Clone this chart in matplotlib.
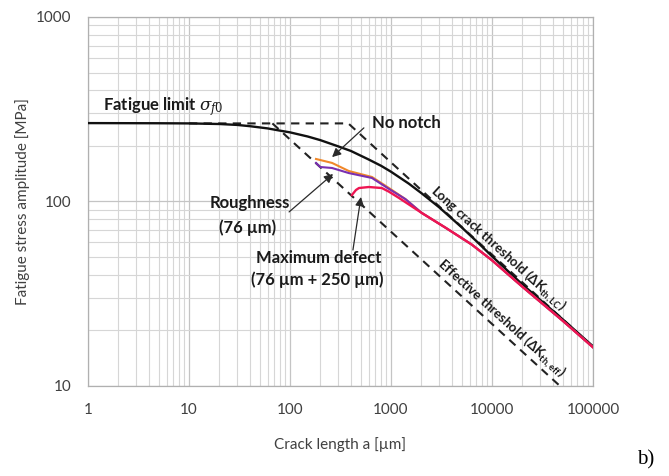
import matplotlib
matplotlib.use("Agg")
import matplotlib.pyplot as plt
from matplotlib.ticker import FixedLocator, LogLocator, NullFormatter, FixedFormatter

plt.rcParams['font.family'] = ['Lato', 'DejaVu Sans']
plt.rcParams['mathtext.fontset'] = 'dejavuserif'

# crack length a [um] vs fatigue stress amplitude [MPa]
no_notch_a = [1, 5, 10, 20, 30, 40, 60, 80, 100, 150, 200, 300, 400, 600, 800, 1000,
              1500, 2000, 3000, 5000, 7000, 10000, 20000, 50000, 100000]
no_notch_s = [266, 265.5, 265, 263, 260, 256, 249, 242, 237, 225, 215, 199, 188, 169, 156, 145,
              125, 111, 93, 72.5, 61, 50.5, 35.5, 23, 16.4]

rough_orange_a = [181, 261, 382, 648, 955, 1390, 2015, 3480, 6280, 10000, 20000, 50000, 100000]
rough_orange_s = [170, 161.8, 146.3, 135.8, 118.3, 103, 86.7, 72, 58.5, 48, 34.5, 22.6, 16.2]

rough_purple_a = [181, 199, 261, 382, 648, 955, 1390, 2015, 3480, 6280, 10000, 20000, 50000, 100000]
rough_purple_s = [161.8, 153.8, 151.9, 142.6, 134.1, 117, 103, 86.7, 72, 58.5, 48, 34.5, 22.6, 16.2]

defect_a = [410, 450, 482, 603, 812, 955, 1200, 2015, 3480, 6280, 10000, 20000, 50000, 100000]
defect_s = [108.4, 115.4, 118.3, 119.8, 118.3, 113, 104.5, 86.7, 72, 58.5, 48, 34.5, 22.6, 16.2]

# threshold lines (fatigue limit plateau + slope -1/2)
long_crack_a = [10, 378, 100000]
long_crack_s = [265, 265, 16.3]
effective_a = [67, 100000]
effective_s = [265, 6.86]

x_ticks = [1, 10, 100, 1000, 10000, 100000]
x_labels = ["1", "10", "100", "1000", "10000", "100000"]
y_ticks = [10, 100, 1000]
y_labels = ["10", "100", "1000"]

fig = plt.figure(figsize=(6.69, 4.76), dpi=100)
ax = fig.add_axes([0.1315, 0.1891, 0.7549, 0.7752])
ax.set_xscale('log')
ax.set_yscale('log')
ax.set_xlim(1, 100000)
ax.set_ylim(10, 1000)

ax.xaxis.set_major_locator(FixedLocator(x_ticks))
ax.xaxis.set_major_formatter(FixedFormatter(x_labels))
ax.yaxis.set_major_locator(FixedLocator(y_ticks))
ax.yaxis.set_major_formatter(FixedFormatter(y_labels))
for axis in (ax.xaxis, ax.yaxis):
    axis.set_minor_locator(LogLocator(base=10, subs=range(2, 10)))
    axis.set_minor_formatter(NullFormatter())

ax.grid(which='major', color='#c4c4c4', lw=0.9)
ax.grid(which='minor', color='#d6d6d6', lw=0.8)
ax.set_axisbelow(True)
for sp in ax.spines.values():
    sp.set_color('#b0b0b0')
    sp.set_linewidth(0.9)
ax.tick_params(which='both', length=0, pad=12, labelsize=11, labelcolor='#404040')

dash = (0, (4, 3))
ax.plot(long_crack_a, long_crack_s, color='#222222', lw=1.5, linestyle=dash, zorder=2)
ax.plot(effective_a, effective_s, color='#222222', lw=1.5, linestyle=dash, zorder=2)

ax.plot(no_notch_a, no_notch_s, color='#111111', lw=1.7, zorder=3)
ax.plot(rough_orange_a, rough_orange_s, color='#f0882a', lw=1.5, zorder=4)
ax.plot(rough_purple_a, rough_purple_s, color='#7a2fb0', lw=1.5, zorder=4)
ax.plot(defect_a, defect_s, color='#ee1552', lw=1.7, zorder=5)

ax.set_xlabel("Crack length a [µm]", fontsize=11, color='#404040', labelpad=15)
ax.set_ylabel("Fatigue stress amplitude [MPa]", fontsize=11, color='#404040', labelpad=4)

bold = dict(fontsize=12, fontweight='bold', color='#1a1a1a')
ax.text(1.41, 325, r"Fatigue limit $\sigma_{f0}$", ha='left', va='center', **bold)
ax.text(650, 266, "No notch", ha='left', va='center', **bold)
ax.text(39.6, 98.2, "Roughness", ha='center', va='center', **bold)
ax.text(38, 71.9, "(76 µm)", ha='center', va='center', **bold)
ax.text(194, 49.4, "Maximum defect", ha='center', va='center', **bold)
ax.text(185, 37.5, "(76 µm + 250 µm)", ha='center', va='center', **bold)

arrow = dict(arrowstyle='-|>', color='#2a2a2a', lw=0.9, mutation_scale=13, shrinkA=0, shrinkB=0)
ax.annotate("", xy=(261, 174), xytext=(539, 250.6), arrowprops=arrow)
ax.annotate("", xy=(267, 141), xytext=(98, 87.8), arrowprops=arrow)
ax.annotate("", xy=(504, 105.8), xytext=(420, 54.6), arrowprops=arrow)

small = dict(fontsize=9.5, fontweight='bold', color='#1a1a1a', rotation=-42.3,
             rotation_mode='anchor', ha='center', va='center')
ax.text(11300, 55.3, r"Long crack threshold (ΔK$_{\mathregular{th,LC}}$)", **small)
ax.text(12380, 23.1, r"Effective threshold (ΔK$_{\mathregular{th,eff}}$)", **small)

fig.text(0.965, 0.033, "b)", family='Liberation Serif', fontsize=15, ha='center', va='center')

fig.savefig("out.png", dpi=100)
